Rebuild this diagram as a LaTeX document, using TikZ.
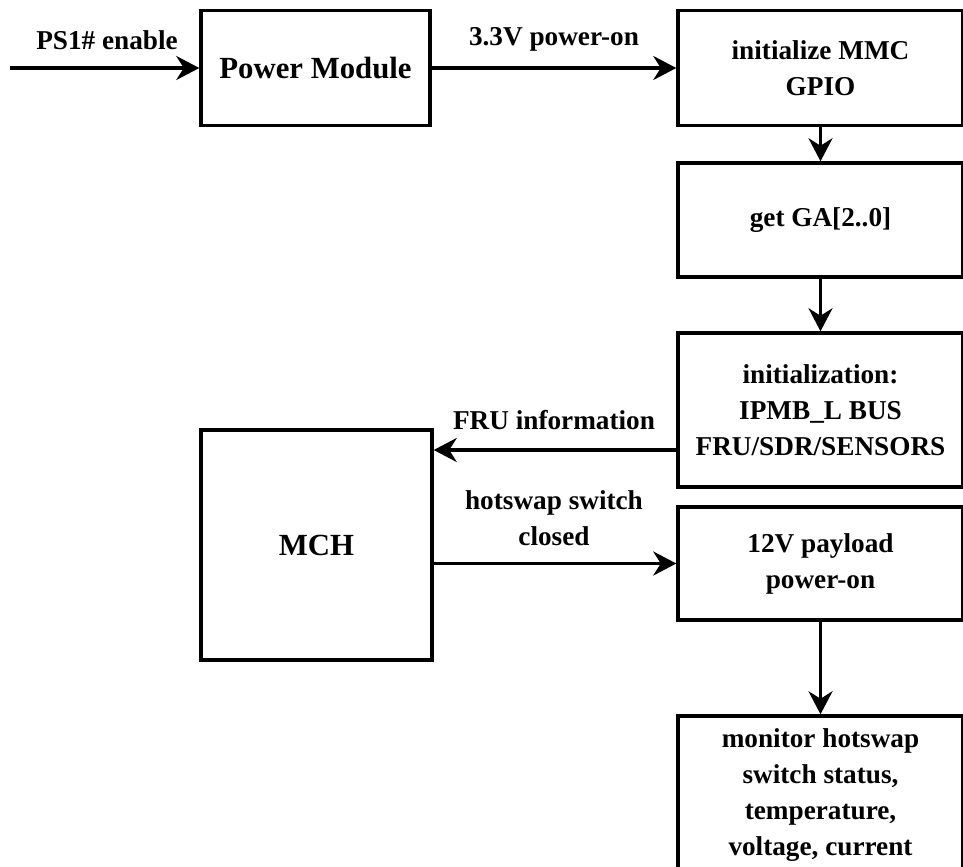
\documentclass[tikz,border=0pt]{standalone}
\usepackage{fontspec}
\setmainfont{Liberation Serif}
\usetikzlibrary{arrows.meta}

\begin{document}
\begin{tikzpicture}[x=0.02cm, y=-0.02cm,
    font=\bfseries\fontsize{15.5}{20.5}\selectfont,
    box/.style={draw, line width=2pt, align=center, inner sep=0pt},
    bigtext/.style={font=\bfseries\fontsize{17.5}{21}\selectfont},
    arr/.style={line width=2pt, -{Stealth[length=0.46cm, width=0.48cm, inset=0.15cm]}},
    lbl/.style={align=center, inner sep=0pt}]
  \clip (0,0) rectangle (963,866);
  \node[box, bigtext, minimum width=4.58cm, minimum height=2.3cm] (pm) at (315.5,68) {Power Module};
  \node[box, minimum width=5.7cm, minimum height=2.3cm] (mmc) at (820.5,68) {initialize MMC\\GPIO};
  \node[box, minimum width=5.7cm, minimum height=2.28cm] (ga) at (820.5,220) {get GA[2..0]};
  \node[box, minimum width=5.7cm, minimum height=3.08cm] (init) at (820.5,410)
    {initialization:\\IPMB\_L BUS\\FRU/SDR/SENSORS};
  \node[box, bigtext, minimum width=4.62cm, minimum height=4.6cm] (mch) at (316.5,545) {MCH};
  \node[box, minimum width=5.7cm, minimum height=2.26cm] (pay) at (820.5,563.5) {12V payload\\power-on};
  \node[box, minimum width=5.7cm, minimum height=3.16cm] (mon) at (820.5,795)
    {monitor hotswap\\switch status,\\temperature,\\voltage, current};
  \coordinate (ps) at (10,68);
  \coordinate (fru) at (0,450);
  \draw[arr] (ps) -- (pm.west);
  \node[lbl] (pslbl) at (107,40) {PS1\# enable};
  \draw[arr] (pm.east) -- (mmc.west);
  \node[lbl] (onlbl) at (554,39) {3.3V power-on};
  \draw[arr] (mmc.south) -- (ga.north);
  \draw[arr] (ga.south) -- (init.north);
  \draw[arr] (init.west |- fru) -- (mch.east |- fru);
  \node[lbl] (frulbl) at (554,420) {FRU information};
  \draw[arr] (mch.east |- pay.west) -- (pay.west);
  \node[lbl] (hslbl) at (554,518) {hotswap switch\\closed};
  \draw[arr] (pay.south) -- (mon.north);
\end{tikzpicture}
\end{document}
